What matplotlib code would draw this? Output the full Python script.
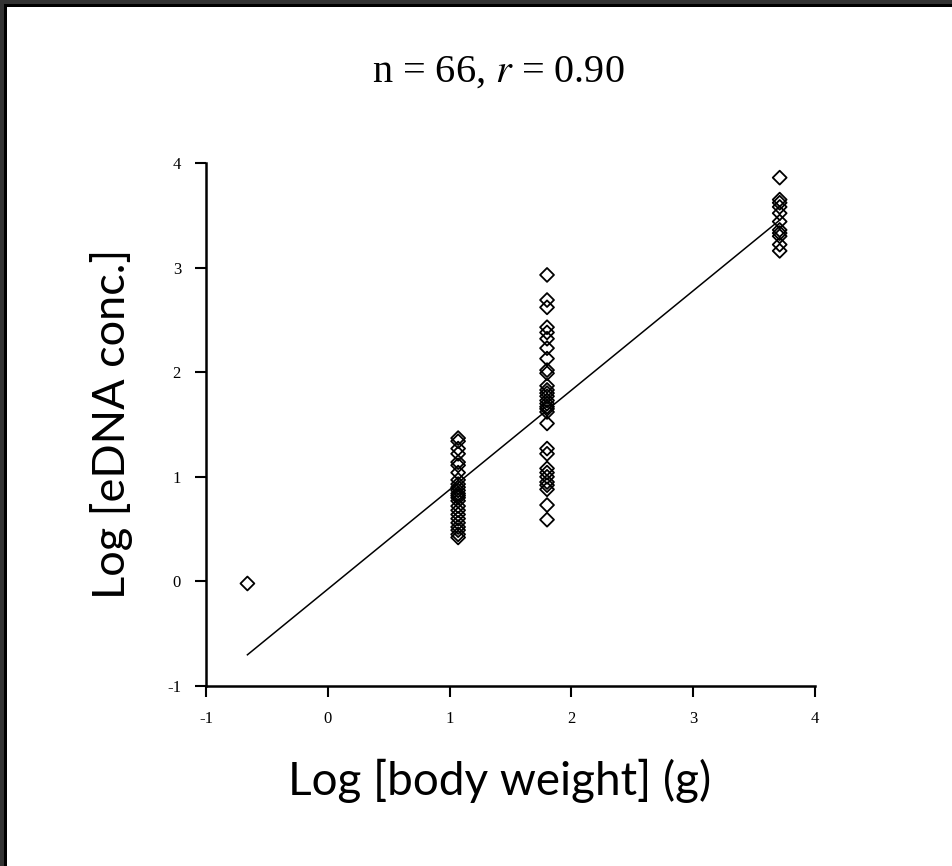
import matplotlib
matplotlib.use("Agg")
import matplotlib.pyplot as plt
import numpy as np
from matplotlib.patches import Rectangle

# ---- data (log body weight, log eDNA conc.) ----
x_outlier = [-0.66]
y_outlier = [-0.02]

x_col1 = 1.07
y_col1 = [1.37, 1.34, 1.27, 1.22, 1.14, 1.11, 1.04, 0.97, 0.93, 0.90, 0.87, 0.84,
          0.82, 0.80, 0.77, 0.72, 0.68, 0.64, 0.60, 0.56, 0.52, 0.49, 0.45, 0.42]

x_col2 = 1.80
y_col2 = [2.93, 2.69, 2.62, 2.43, 2.38, 2.32, 2.23, 2.13, 2.02, 1.99, 1.87, 1.83,
          1.80, 1.77, 1.73, 1.70, 1.67, 1.65, 1.62, 1.51, 1.27, 1.22, 1.08, 1.04,
          1.00, 0.95, 0.92, 0.88, 0.73, 0.59]

x_col3 = 3.71
y_col3 = [3.86, 3.65, 3.62, 3.58, 3.52, 3.44, 3.36, 3.33, 3.30, 3.22, 3.16]

x_ticks = [-1, 0, 1, 2, 3, 4]
y_ticks = [-1, 0, 1, 2, 3, 4]
title_n = 66
title_r = 0.90

xs = np.array(x_outlier + [x_col1] * len(y_col1) + [x_col2] * len(y_col2) + [x_col3] * len(y_col3))
ys = np.array(y_outlier + y_col1 + y_col2 + y_col3)

fig = plt.figure(figsize=(9.53, 8.66), dpi=100)
fig.patch.set_facecolor("white")

# slide frame (top and left dark border)
fig.patches.append(Rectangle((0, 1 - 7 / 866), 1, 7 / 866, transform=fig.transFigure,
                             facecolor="#333333", edgecolor="none", zorder=0))
fig.patches.append(Rectangle((0, 0), 7 / 953, 1, transform=fig.transFigure,
                             facecolor="#333333", edgecolor="none", zorder=0))
fig.patches.append(Rectangle((4 / 953, 0), 3 / 953, 1 - 4 / 866, transform=fig.transFigure,
                             facecolor="#000000", edgecolor="none", zorder=1))
fig.patches.append(Rectangle((4 / 953, 1 - 7 / 866), 1 - 4 / 953, 3 / 866, transform=fig.transFigure,
                             facecolor="#000000", edgecolor="none", zorder=1))

# axes: x -1 at px 206, 4 at px 815; y 4 at px 163, -1 at px 686
left = 206 / 953
width = (815 - 206) / 953
bottom = 1 - 686 / 866
height = (686 - 163) / 866
ax = fig.add_axes([left, bottom, width, height])

ax.scatter(xs, ys, marker="D", s=50, facecolors="none", edgecolors="black",
           linewidths=1.3, zorder=3)

slope, intercept = np.polyfit(xs, ys, 1)
xl = np.array([xs.min(), xs.max()])
ax.plot(xl, slope * xl + intercept, color="black", lw=1.1, zorder=2)

ax.set_xlim(-1, 4)
ax.set_ylim(-1, 4)
ax.set_xticks(x_ticks)
ax.set_yticks(y_ticks)
ax.set_xticklabels([str(t) for t in x_ticks], family="Liberation Serif", fontsize=12)
ax.set_yticklabels([str(t) for t in y_ticks], family="Liberation Serif", fontsize=12)
ax.tick_params(direction="out", length=8, width=1.5, pad=10, colors="black")
for side in ["top", "right"]:
    ax.spines[side].set_visible(False)
for side in ["left", "bottom"]:
    ax.spines[side].set_linewidth(1.8)

fig.text(498 / 953, 1 - 72 / 866, f"n = {title_n}, $\\mathit{{r}}$ = {title_r:.2f}",
         ha="center", va="center", family="Liberation Serif", fontsize=29,
         math_fontfamily="stix")
fig.text(500 / 953, 1 - 781 / 866, "Log [body weight] (g)", ha="center", va="center",
         family="Lato", fontsize=33)
fig.text(112 / 953, 1 - 424 / 866, "Log [eDNA conc.]", ha="center", va="center",
         rotation=90, family="Lato", fontsize=32.5)

fig.savefig("out.png", dpi=100)
